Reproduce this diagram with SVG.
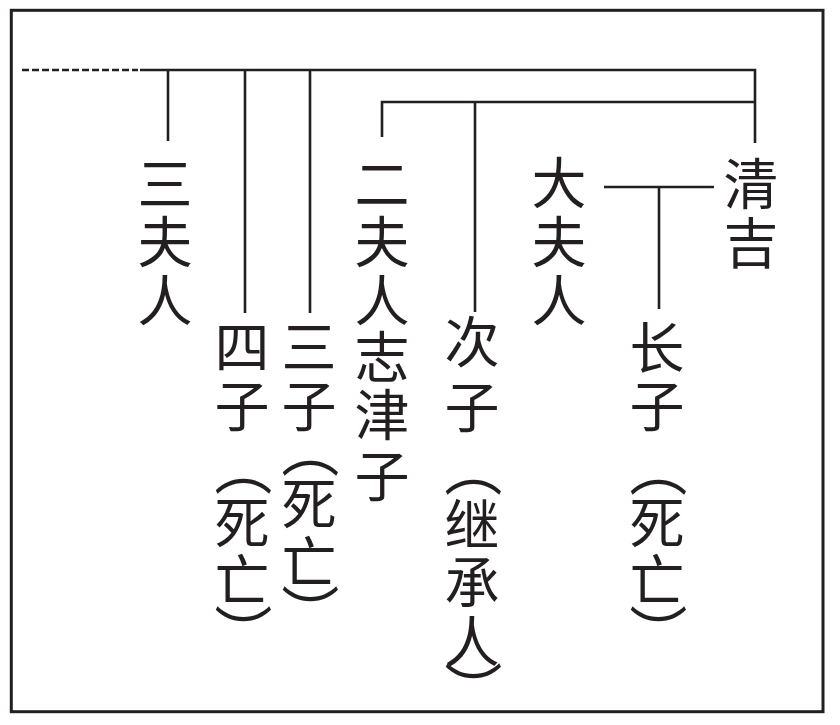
<svg xmlns="http://www.w3.org/2000/svg" width="840" height="725" viewBox="0 0 840 725">
<style>
.ln{stroke:#231f20;stroke-width:2.6;fill:none;stroke-linecap:butt}
.dash{stroke:#231f20;stroke-width:2.6;fill:none;stroke-dasharray:7 3}
.lb{font-family:'Noto Sans CJK SC','Noto Sans CJK JP',sans-serif;font-size:55px;fill:#231f20;text-anchor:middle}
.pr{font-family:'Noto Sans CJK SC','Noto Sans CJK JP',sans-serif;font-size:58px;fill:#231f20;text-anchor:middle}
</style>
<rect x="11.3" y="10.3" width="811.7" height="701.4" fill="#fff" stroke="#231f20" stroke-width="3"/>
<g id="connectors">
<line class="dash" x1="22" y1="70" x2="138" y2="70"/>
<polyline class="ln" points="140,70 755,70 755,143"/>
<polyline class="ln" points="382,137 382,102 755,102"/>
<line class="ln" x1="168" y1="70" x2="168" y2="141"/>
<line class="ln" x1="245" y1="70" x2="245" y2="313"/>
<line class="ln" x1="310" y1="70" x2="310" y2="313"/>
<line class="ln" x1="475" y1="102" x2="475" y2="312"/>
<line class="ln" x1="604" y1="187" x2="714" y2="187"/>
<line class="ln" x1="659" y1="187" x2="659" y2="309"/>
</g>
<g id="n-qingji"><text class="lb"><tspan x="751" y="204">清</tspan><tspan x="751" y="262.5">吉</tspan></text></g>
<g id="n-dafuren"><text class="lb"><tspan x="559" y="202.5">大</tspan><tspan x="559" y="261.5">夫</tspan><tspan x="559" y="320.5">人</tspan></text></g>
<g id="n-changzi"><text class="lb"><tspan x="657" y="367.5">长</tspan><tspan x="657" y="425.5">子</tspan></text>
<text class="pr" transform="translate(657,480) rotate(90)" x="-11.6" y="21.5">（</text>
<text class="lb"><tspan x="657" y="542.5">死</tspan><tspan x="657" y="599.5">亡</tspan></text>
<text class="pr" transform="translate(657,621) rotate(90)" x="11.6" y="21.5">）</text></g>
<g id="n-cizi"><text class="lb"><tspan x="472" y="362">次</tspan><tspan x="472" y="426.5">子</tspan></text>
<text class="pr" transform="translate(472,480) rotate(90)" x="-11.6" y="21.5">（</text>
<text class="lb"><tspan x="472" y="545">继</tspan><tspan x="472" y="601.5">承</tspan><tspan x="472" y="661.5">人</tspan></text>
<text class="pr" transform="translate(472,678) rotate(90)" x="11.6" y="21.5">）</text></g>
<g id="n-erfuren"><text class="lb"><tspan x="382" y="203.5">二</tspan><tspan x="382" y="261.5">夫</tspan><tspan x="382" y="320.5">人</tspan><tspan x="382" y="376.5">志</tspan><tspan x="382" y="434.5">津</tspan><tspan x="382" y="495.5">子</tspan></text></g>
<g id="n-sanzi"><text class="lb"><tspan x="309" y="367">三</tspan><tspan x="309" y="425.5">子</tspan></text>
<text class="pr" transform="translate(309,461) rotate(90)" x="-11.6" y="21.5">（</text>
<text class="lb"><tspan x="309" y="523.5">死</tspan><tspan x="309" y="581.5">亡</tspan></text>
<text class="pr" transform="translate(309,601) rotate(90)" x="11.6" y="21.5">）</text></g>
<g id="n-sizi"><text class="lb"><tspan x="242" y="366.5">四</tspan><tspan x="242" y="425.5">子</tspan></text>
<text class="pr" transform="translate(242,479) rotate(90)" x="-11.6" y="21.5">（</text>
<text class="lb"><tspan x="242" y="542.5">死</tspan><tspan x="242" y="599.5">亡</tspan></text>
<text class="pr" transform="translate(242,621) rotate(90)" x="11.6" y="21.5">）</text></g>
<g id="n-sanfuren"><text class="lb"><tspan x="165" y="203.5">三</tspan><tspan x="165" y="262">夫</tspan><tspan x="165" y="320.5">人</tspan></text></g>
</svg>
